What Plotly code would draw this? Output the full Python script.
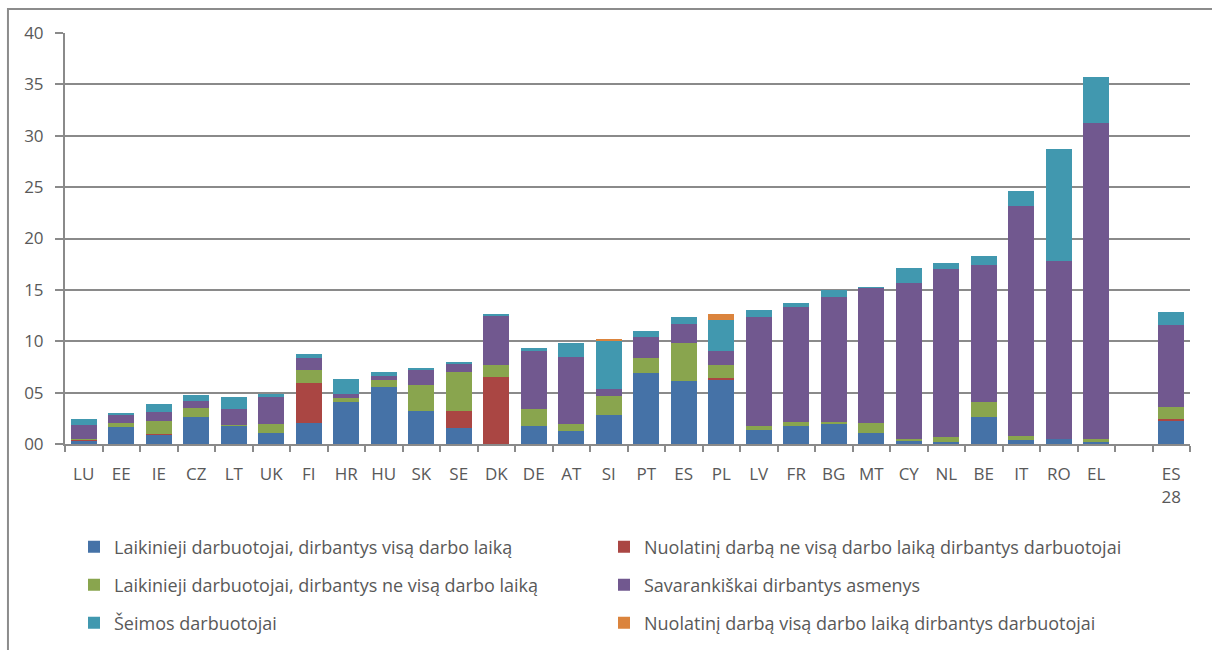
import plotly.graph_objects as go

# Country codes along the x axis (a blank slot separates the EU-28 bar)
categories = ["LU", "EE", "IE", "CZ", "LT", "UK", "FI", "HR", "HU", "SK", "SE", "DK",
              "DE", "AT", "SI", "PT", "ES", "PL", "LV", "FR", "BG", "MT", "CY", "NL",
              "BE", "IT", "RO", "EL", " ", "ES<br>28"]

# Shares by employment type (%)
temp_full = [0.35, 1.65, 0.9, 2.6, 1.8, 1.05, 2.0, 4.1, 5.5, 3.2, 1.6, 0.0,
             1.8, 1.25, 2.8, 6.95, 6.15, 6.3, 1.35, 1.75, 1.95, 1.1, 0.3, 0.15,
             2.6, 0.4, 0.45, 0.2, None, 2.3]
perm_part = [0.05, 0.0, 0.1, 0.0, 0.0, 0.0, 3.9, 0.0, 0.0, 0.0, 1.6, 6.5,
             0.0, 0.0, 0.0, 0.0, 0.0, 0.15, 0.0, 0.0, 0.0, 0.0, 0.0, 0.0,
             0.0, 0.0, 0.0, 0.0, None, 0.1]
temp_part = [0.1, 0.4, 1.2, 0.95, 0.05, 0.85, 1.35, 0.35, 0.7, 2.5, 3.85, 1.15,
             1.6, 0.7, 1.9, 1.4, 3.65, 1.25, 0.4, 0.4, 0.2, 0.9, 0.15, 0.5,
             1.5, 0.4, 0.0, 0.25, None, 1.2]
self_employed = [1.35, 0.75, 0.95, 0.6, 1.55, 2.7, 1.15, 0.45, 0.4, 1.55, 0.8, 4.85,
                 5.65, 6.5, 0.7, 2.05, 1.9, 1.4, 10.6, 11.15, 12.2, 13.2, 15.2, 16.35,
                 13.3, 22.4, 17.35, 30.8, None, 8.0]
family_workers = [0.55, 0.2, 0.75, 0.65, 1.15, 0.25, 0.4, 1.4, 0.45, 0.15, 0.15, 0.15,
                  0.3, 1.35, 4.6, 0.55, 0.65, 2.95, 0.65, 0.45, 0.65, 0.05, 1.45, 0.65,
                  0.9, 1.4, 10.9, 4.5, None, 1.25]
perm_full = [0.0, 0.0, 0.0, 0.0, 0.0, 0.0, 0.0, 0.0, 0.0, 0.0, 0.0, 0.0,
             0.0, 0.0, 0.2, 0.0, 0.0, 0.6, 0.0, 0.0, 0.0, 0.0, 0.0, 0.0,
             0.0, 0.0, 0.0, 0.0, None, 0.0]

y_tick_vals = [0, 5, 10, 15, 20, 25, 30, 35, 40]
y_tick_text = ["00", "05", "10", "15", "20", "25", "30", "35", "40"]

series = [
    ("Laikinieji darbuotojai, dirbantys visą darbo laiką", temp_full, "#4572A7", "legend"),
    ("Nuolatinį darbą ne visą darbo laiką dirbantys darbuotojai", perm_part, "#AA4643", "legend"),
    ("Laikinieji darbuotojai, dirbantys ne visą darbo laiką", temp_part, "#89A54E", "legend2"),
    ("Savarankiškai dirbantys asmenys", self_employed, "#71588F", "legend2"),
    ("Šeimos darbuotojai", family_workers, "#4198AF", "legend3"),
    ("Nuolatinį darbą visą darbo laiką dirbantys darbuotojai", perm_full, "#DB843D", "legend3"),
]

FONT = "Open Sans"
TXT = "#595959"

fig = go.Figure()
for name, vals, color, lg in series:
    fig.add_trace(go.Bar(
        x=categories, y=vals, name=name, marker_color=color,
        marker_line_width=0, legend=lg,
    ))

legend_common = dict(
    orientation="h", xanchor="left", yanchor="middle", x=0.008,
    entrywidth=485, entrywidthmode="pixels", itemwidth=30,
    font=dict(family=FONT, size=18, color=TXT), bgcolor="rgba(0,0,0,0)",
    traceorder="normal",
)

fig.update_layout(
    barmode="stack",
    bargap=0.3,
    width=1212, height=650,
    margin=dict(l=65, r=22, t=33, b=206, autoexpand=False),
    paper_bgcolor="white", plot_bgcolor="white",
    font=dict(family=FONT, size=17, color=TXT),
    showlegend=True,
    legend=dict(legend_common, y=-0.2506),
    legend2=dict(legend_common, y=-0.3431),
    legend3=dict(legend_common, y=-0.4355),
    xaxis=dict(
        type="category", categoryorder="array", categoryarray=categories,
        showline=True, linecolor="#8a8a8a", linewidth=2,
        ticks="outside", tickson="boundaries", ticklen=6, tickcolor="#8a8a8a", tickwidth=1.5,
        showgrid=False, ticklabelstandoff=14, automargin=False,
        tickfont=dict(family=FONT, size=17, color=TXT),
        range=[-0.5, len(categories) - 0.5],
    ),
    yaxis=dict(
        range=[0, 40], tickvals=y_tick_vals, ticktext=y_tick_text,
        showline=True, linecolor="#8a8a8a", linewidth=2,
        ticks="outside", ticklen=8, tickcolor="#8a8a8a", tickwidth=1.5,
        showgrid=True, gridcolor="#8a8a8a", gridwidth=1.5,
        zeroline=False, ticklabelstandoff=8, automargin=False,
        tickfont=dict(family=FONT, size=17, color=TXT),
    ),
    shapes=[dict(
        type="rect", xref="paper", yref="paper",
        x0=-0.0507, x1=1.1, y0=-0.7, y1=1.0584,
        line=dict(color="#8c8c8c", width=2), fillcolor="rgba(0,0,0,0)", layer="below",
    )],
)

fig.write_html("out.html")
